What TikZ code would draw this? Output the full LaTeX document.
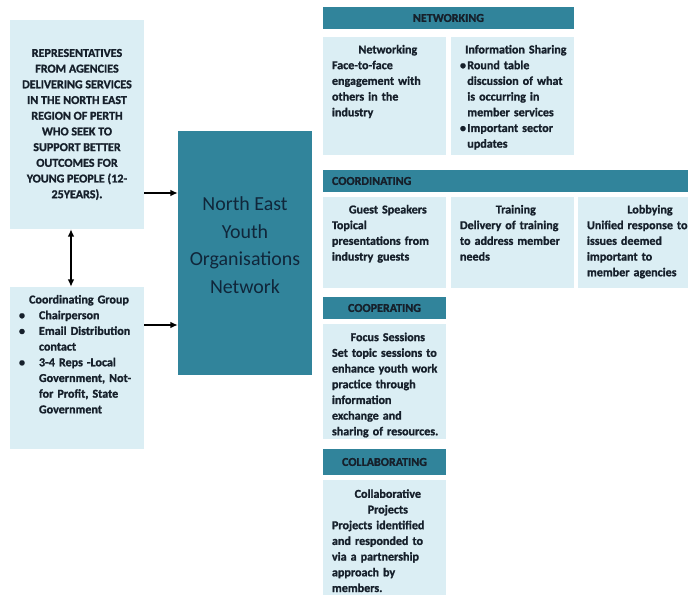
\documentclass[tikz,border=0pt]{standalone}
\usepackage{fontspec}
\setmainfont{Carlito}[BoldFont={Carlito Bold}, BoldFeatures={FakeBold=1.2}]
\usepackage{tikz}
\usetikzlibrary{positioning, arrows.meta, calc, fit}

\definecolor{tealbar}{HTML}{31849B}
\definecolor{palebox}{HTML}{DBEEF4}
\definecolor{inkdark}{HTML}{16202B}
\definecolor{inknavy}{HTML}{10263A}

\def\unit{0.3mm}

% heading line centred, body ragged right
\newcommand\headed[2]{\parindent=0pt{\centering #1\par}\raggedright #2}
\newcommand\itemdot{\makebox[2.2mm][l]{\textbullet}}
\newcommand\itemgap{\hspace*{2.2mm}}

\tikzset{
    card/.style={fill=palebox, inner sep=0pt},
    bar/.style={fill=tealbar, inner sep=0pt},
    caption/.style={inner sep=0pt, text=inkdark, font=\fontsize{10.3}{13.4}\selectfont\bfseries},
    blurb/.style={inner sep=0pt, text width=33.5mm, text=inkdark, font=\fontsize{10.3}{13.4}\selectfont\bfseries},
    hubtext/.style={inner sep=0pt, align=center, text=inknavy, font=\fontsize{17}{23.5}\selectfont},
    link/.style={line width=1.2pt, -{Latex[length=2.2mm,width=2mm]}},
    twolink/.style={line width=1.2pt, {Latex[length=2.2mm,width=2mm]}-{Latex[length=2.2mm,width=2mm]}}
}

\begin{document}
\begin{tikzpicture}[x=\unit, y=-\unit]
    \useasboundingbox (0,0) rectangle (688,595);
    \clip (0,0) rectangle (688,595);

    % pale boxes
    \foreach \name/\xa/\ya/\xb/\yb in {
        reps/10/20/144/229,
        group/10/287/144/449,
        netA/323/37/446/155,
        netB/451/37/574/155,
        coordA/323/197/446/288,
        coordB/451/197/574/288,
        coordC/578/197/722/288,
        coopA/323/324/446/439,
        collabA/323/480/446/610}
    {
        \node[card, fit={(\xa,\ya) (\xb,\yb)}] (\name) {};
    }

    % teal bars
    \foreach \name/\xa/\ya/\xb/\yb in {
        hub/178/131/312/375,
        netHead/323/7/574/29,
        coordHead/323/170/722/192,
        coopHead/323/297/446/319,
        collabHead/323/449/446/475}
    {
        \node[bar, fit={(\xa,\ya) (\xb,\yb)}] (\name) {};
    }

    % bar captions
    \node[caption] (netCap) at (netHead) {NETWORKING};
    \node[caption, anchor=west] (coordCap) at ([xshift=2.7mm]coordHead.west) {COORDINATING};
    \node[caption] (coopCap) at (coopHead) {COOPERATING};
    \node[caption] (collabCap) at (collabHead) {COLLABORATING};

    \node[hubtext] (hubTxt) at ([yshift=2.4mm]hub.center)
        {North East\\Youth\\Organisations\\Network};

    % left side
    \node[caption, align=center] (repsTxt) at (reps)
        {REPRESENTATIVES\\FROM AGENCIES\\DELIVERING SERVICES\\IN THE NORTH EAST\\REGION OF PERTH\\WHO SEEK TO\\SUPPORT BETTER\\OUTCOMES FOR\\YOUNG PEOPLE (12-\\25YEARS).};

    \node[blurb, text width=36mm, below right=2.4mm and 2.7mm of group.north west] (groupTxt)
        {\headed{Coordinating Group}{%
        \makebox[6mm][l]{\textbullet}Chairperson\\
        \makebox[6mm][l]{\textbullet}Email Distribution\\
        \hspace*{6mm}contact\\
        \makebox[6mm][l]{\textbullet}3-4 Reps -Local\\
        \hspace*{6mm}Government, Not-\\
        \hspace*{6mm}for Profit, State\\
        \hspace*{6mm}Government}};

    % right side
    \node[blurb, below right=2.4mm and 2.7mm of netA.north west] (netAtxt)
        {\headed{Networking}{Face-to-face\\engagement with\\others in the\\industry}};
    \node[blurb, below right=2.4mm and 2.7mm of netB.north west] (netBtxt)
        {\headed{Information Sharing}{%
        \itemdot Round table\\
        \itemgap discussion of what\\
        \itemgap is occurring in\\
        \itemgap member services\\
        \itemdot Important sector\\
        \itemgap updates}};

    \node[blurb, below right=2.4mm and 2.7mm of coordA.north west] (coordAtxt)
        {\headed{Guest Speakers}{Topical\\presentations from\\industry guests}};
    \node[blurb, below right=2.4mm and 2.7mm of coordB.north west] (coordBtxt)
        {\headed{Training}{Delivery of training\\to address member\\needs}};
    \node[blurb, text width=37.8mm, below right=2.4mm and 2.7mm of coordC.north west] (coordCtxt)
        {\headed{Lobbying}{Unified response to\\issues deemed\\important to\\member agencies}};

    \node[blurb, below right=2.6mm and 2.7mm of coopA.north west] (coopAtxt)
        {\headed{Focus Sessions}{Set topic sessions to\\enhance youth work\\practice through\\information\\exchange and\\sharing of resources.}};
    \node[blurb, below right=2.8mm and 2.7mm of collabA.north west] (collabAtxt)
        {\headed{Collaborative\\Projects}{Projects identified\\and responded to\\via a partnership\\approach by\\members.}};

    % connectors
    \coordinate (r1) at (0,193);
    \coordinate (r2) at (0,325);
    \coordinate (v1) at (71,0);
    \draw[link] (reps.east |- r1) -- (hub.west |- r1);
    \draw[link] (group.east |- r2) -- (hub.west |- r2);
    \draw[twolink] (reps.south -| v1) -- (group.north -| v1);
\end{tikzpicture}
\end{document}
